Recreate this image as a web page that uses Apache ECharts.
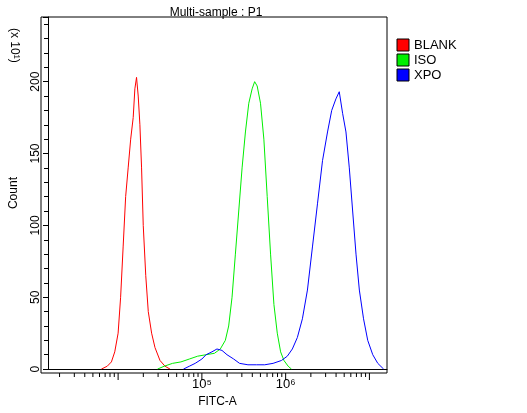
<!DOCTYPE html><html><head><meta charset="utf-8"><script src="https://cdn.jsdelivr.net/npm/echarts@6/dist/echarts.min.js"></script></head><body style="margin:0;background:#fff"><div id="c" style="width:527px;height:413px"></div><script>
const seriesNames=['BLANK','ISO','XPO '];
const seriesColors=['#ff0000','#00ee00','#0000ff'];
const xTicks=[4,5,6,7];
// x in log10(FITC-A), y in counts (x10)
const blank=[[3.80,0],[3.87,2],[3.92,5],[3.96,12],[4.00,25],[4.03,50],[4.06,85],[4.09,120],[4.12,140],[4.15,160],[4.18,175],[4.20,195],[4.22,203],[4.24,190],[4.26,170],[4.28,140],[4.30,100],[4.33,65],[4.36,40],[4.40,25],[4.44,15],[4.50,6],[4.56,2],[4.62,0]];
const iso=[[4.47,0],[4.55,2],[4.65,4],[4.75,5],[4.85,7],[4.95,9],[5.05,10],[5.15,11],[5.22,14],[5.28,20],[5.32,30],[5.36,50],[5.40,80],[5.44,110],[5.48,140],[5.52,165],[5.56,185],[5.60,195],[5.63,200],[5.66,197],[5.70,185],[5.74,160],[5.78,120],[5.82,80],[5.86,45],[5.90,25],[5.94,12],[5.98,6],[6.03,2],[6.07,0]];
const xpo=[[4.78,0],[4.85,2],[4.92,4],[5.00,7],[5.05,10],[5.12,12],[5.18,14],[5.24,13],[5.30,10],[5.38,7],[5.45,4],[5.55,3],[5.65,3],[5.75,3],[5.85,4],[5.95,6],[6.02,9],[6.08,14],[6.14,22],[6.20,35],[6.26,55],[6.32,85],[6.38,115],[6.44,145],[6.50,165],[6.55,180],[6.60,188],[6.64,193],[6.68,178],[6.72,165],[6.76,140],[6.80,110],[6.84,80],[6.88,55],[6.93,35],[6.98,20],[7.04,10],[7.10,4],[7.17,0]];
const data=[blank,iso,xpo];
const sup={4:'⁴',5:'⁵',6:'⁶',7:'⁷'};
const ch=echarts.init(document.getElementById('c'));
ch.setOption({
 animation:false,
 title:{text:'Multi-sample : P1',left:211,top:2,textAlign:'center',textStyle:{fontFamily:'Liberation Sans',fontSize:12,fontWeight:'normal',color:'#000'}},
 grid:{left:41,right:140,top:17,bottom:40},
 xAxis:{type:'value',min:3.163,max:7.21,name:'FITC-A',nameLocation:'middle',nameGap:26,nameTextStyle:{fontFamily:'Liberation Sans',fontSize:12,color:'#000'},
  axisLine:{lineStyle:{color:'#000'}},axisTick:{show:false},splitLine:{show:false},
  axisLabel:{customValues:xTicks,showMinLabel:false,showMaxLabel:false,formatter:v=>'10'+(sup[Math.round(v)]||''),fontFamily:'Liberation Sans',fontSize:13,color:'#000',margin:9}},
 yAxis:{type:'value',min:0,max:245,interval:50,name:'Count',nameLocation:'middle',nameGap:28,nameTextStyle:{fontFamily:'Liberation Sans',fontSize:12,color:'#000'},
  axisLine:{show:true,lineStyle:{color:'#000'}},axisTick:{show:true,length:5,lineStyle:{color:'#000'}},minorTick:{show:true,splitNumber:5,length:4,lineStyle:{color:'#000'}},splitLine:{show:false},
  axisLabel:{rotate:90,showMaxLabel:false,fontFamily:'Liberation Sans',fontSize:12,color:'#000',margin:6}},
 graphic:[
  {type:'rect',shape:{x:41,y:17,width:346,height:356},style:{fill:'none',stroke:'#000',lineWidth:1},z:10},
  {type:'text',x:20,y:28,rotation:-Math.PI/2,style:{text:'(x 10¹)',font:'12px Liberation Sans',fill:'#000'}},
  ...seriesNames.flatMap((n,i)=>[
   {type:'rect',shape:{x:397,y:39+i*15,width:12,height:12},style:{fill:seriesColors[i],stroke:'#000',lineWidth:1}},
   {type:'text',x:414,y:39+i*15,style:{text:n,font:'13px Liberation Sans',fill:'#000'}}])
 ],
 series:data.map((d,i)=>({type:'line',name:seriesNames[i],data:d,showSymbol:false,lineStyle:{color:seriesColors[i],width:1}}))
});
const g=[];
for(let dec=3;dec<=7;dec++)for(let m=1;m<=9;m++){const v=dec+Math.log10(m);if(v<3.163||v>7.21)continue;const x=ch.convertToPixel({xAxisIndex:0},v);g.push({type:'line',shape:{x1:x,y1:373,x2:x,y2:m===1?380:377},style:{stroke:'#000',lineWidth:1}});}
ch.setOption({graphic:g.concat(ch.getOption().graphic[0].elements)});
</script></body></html>
